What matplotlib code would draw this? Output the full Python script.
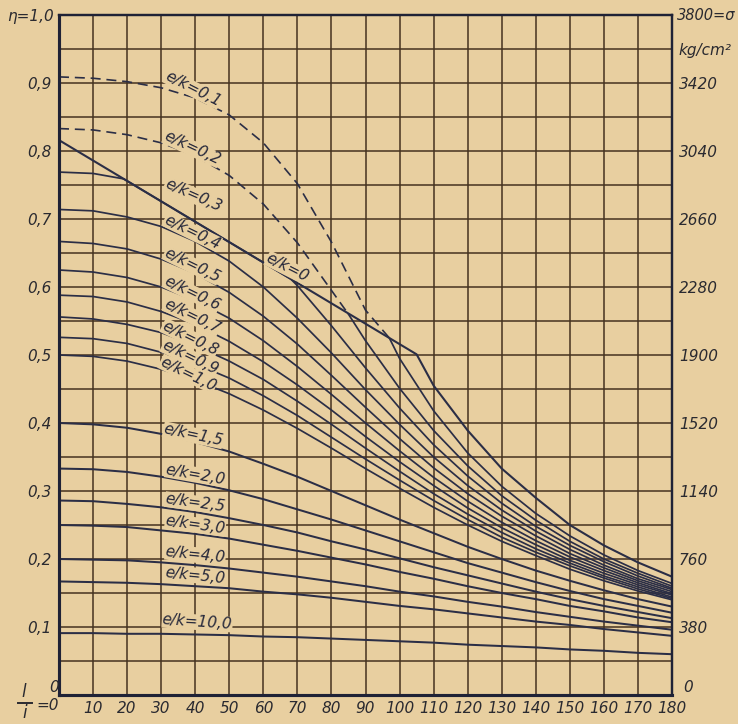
import matplotlib.pyplot as plt

plt.rcParams['font.family'] = ['Liberation Sans Narrow', 'DejaVu Sans']

# slenderness l/i on the x axis
lam = [0, 10, 20, 30, 40, 50, 60, 70, 80, 90, 100, 110, 120, 130, 140, 150, 160, 170, 180]

# e/k = 0 (straight part, then the hyperbola)
lam_0 = [0, 10, 20, 30, 40, 50, 60, 70, 80, 90, 100, 105, 110, 120, 130, 140, 150, 160, 170, 180]
eta_0 = [0.816, 0.786, 0.756, 0.726, 0.696, 0.666, 0.636, 0.606, 0.576, 0.546, 0.516, 0.501,
         0.455, 0.389, 0.333, 0.290, 0.250, 0.220, 0.195, 0.174]

# e/k = 0,1 and 0,2: dashed above the e/k=0 line, solid below it
lam_01_dash = [0, 10, 20, 30, 40, 50, 60, 70, 80, 90, 97]
eta_01_dash = [0.909, 0.907, 0.902, 0.893, 0.878, 0.853, 0.812, 0.752, 0.666, 0.566, 0.525]
lam_01 = [97, 100, 110, 120, 130, 140, 150, 160, 170, 180]
eta_01 = [0.525, 0.495, 0.418, 0.356, 0.307, 0.267, 0.234, 0.206, 0.183, 0.164]

lam_02_dash = [0, 10, 20, 30, 40, 50, 60, 70, 80, 85]
eta_02_dash = [0.833, 0.831, 0.824, 0.812, 0.793, 0.764, 0.722, 0.665, 0.595, 0.560]
lam_02 = [85, 90, 100, 110, 120, 130, 140, 150, 160, 170, 180]
eta_02 = [0.560, 0.521, 0.451, 0.389, 0.337, 0.293, 0.257, 0.226, 0.200, 0.179, 0.160]

lam_03 = [0, 10, 19, 30, 40, 50, 60, 68, 70, 80, 90, 100, 110, 120, 130, 140, 150, 160, 170, 180]
eta_03 = [0.769, 0.767, 0.759, 0.726, 0.696, 0.666, 0.636, 0.612, 0.602, 0.543, 0.481, 0.422,
          0.368, 0.322, 0.282, 0.248, 0.220, 0.196, 0.175, 0.157]

eta_04 = [0.714, 0.712, 0.703, 0.689, 0.667, 0.638, 0.600, 0.554, 0.503, 0.449, 0.398, 0.350,
          0.308, 0.272, 0.241, 0.214, 0.191, 0.171, 0.155]
eta_05 = [0.667, 0.664, 0.656, 0.641, 0.620, 0.592, 0.557, 0.516, 0.470, 0.423, 0.377, 0.334,
          0.296, 0.263, 0.234, 0.208, 0.187, 0.168, 0.152]
eta_06 = [0.625, 0.622, 0.614, 0.600, 0.580, 0.554, 0.521, 0.483, 0.442, 0.400, 0.359, 0.320,
          0.285, 0.254, 0.227, 0.203, 0.183, 0.165, 0.149]
eta_07 = [0.588, 0.586, 0.578, 0.564, 0.545, 0.520, 0.490, 0.456, 0.419, 0.380, 0.343, 0.308,
          0.275, 0.246, 0.221, 0.198, 0.179, 0.162, 0.147]
eta_08 = [0.556, 0.553, 0.545, 0.533, 0.514, 0.491, 0.464, 0.432, 0.398, 0.363, 0.329, 0.296,
          0.266, 0.239, 0.215, 0.194, 0.175, 0.159, 0.144]
eta_09 = [0.526, 0.524, 0.517, 0.504, 0.487, 0.466, 0.440, 0.411, 0.379, 0.347, 0.316, 0.286,
          0.258, 0.232, 0.210, 0.190, 0.172, 0.156, 0.142]
eta_10 = [0.500, 0.498, 0.491, 0.479, 0.463, 0.443, 0.419, 0.392, 0.363, 0.333, 0.304, 0.276,
          0.250, 0.226, 0.205, 0.185, 0.168, 0.153, 0.140]
eta_15 = [0.400, 0.398, 0.393, 0.384, 0.372, 0.358, 0.340, 0.321, 0.300, 0.279, 0.258, 0.238,
          0.218, 0.200, 0.183, 0.168, 0.154, 0.141, 0.130]
eta_20 = [0.333, 0.332, 0.328, 0.321, 0.312, 0.301, 0.288, 0.273, 0.258, 0.242, 0.226, 0.210,
          0.194, 0.180, 0.166, 0.153, 0.141, 0.131, 0.121]
eta_25 = [0.286, 0.285, 0.281, 0.276, 0.269, 0.260, 0.250, 0.239, 0.226, 0.214, 0.201, 0.188,
          0.176, 0.164, 0.152, 0.141, 0.131, 0.122, 0.113]
eta_30 = [0.250, 0.249, 0.247, 0.242, 0.237, 0.230, 0.221, 0.212, 0.202, 0.192, 0.181, 0.171,
          0.160, 0.150, 0.141, 0.131, 0.123, 0.114, 0.107]
eta_40 = [0.200, 0.199, 0.198, 0.195, 0.191, 0.186, 0.180, 0.174, 0.167, 0.160, 0.152, 0.145,
          0.137, 0.130, 0.122, 0.115, 0.108, 0.102, 0.096]
eta_50 = [0.167, 0.166, 0.165, 0.163, 0.160, 0.157, 0.152, 0.148, 0.143, 0.137, 0.131, 0.126,
          0.120, 0.114, 0.108, 0.103, 0.097, 0.092, 0.087]
eta_100 = [0.091, 0.091, 0.090, 0.090, 0.089, 0.088, 0.086, 0.085, 0.083, 0.081, 0.079, 0.077,
           0.074, 0.072, 0.070, 0.067, 0.065, 0.062, 0.060]

# curve labels: text, x, eta, angle
curve_labels = [
    ("e/k=0,1", 39.4, 0.891, -27), ("e/k=0,2", 39.1, 0.804, -25),
    ("e/k=0,3", 39.4, 0.735, -24), ("e/k=0,4", 39.1, 0.681, -26),
    ("e/k=0,5", 39.1, 0.632, -26), ("e/k=0,6", 39.1, 0.591, -26),
    ("e/k=0,7", 39.1, 0.557, -26), ("e/k=0,8", 38.5, 0.525, -26),
    ("e/k=0,9", 38.5, 0.496, -26), ("e/k=1,0", 37.9, 0.472, -26),
    ("e/k=0", 67.1, 0.628, -27),
    ("e/k=1,5", 39.4, 0.382, -12), ("e/k=2,0", 40.0, 0.324, -10),
    ("e/k=2,5", 40.0, 0.282, -8), ("e/k=3,0", 40.0, 0.250, -8),
    ("e/k=4,0", 40.0, 0.206, -6), ("e/k=5,0", 40.0, 0.176, -6),
    ("e/k=10,0", 40.6, 0.107, -4),
]

left_ticks = [0.1, 0.2, 0.3, 0.4, 0.5, 0.6, 0.7, 0.8, 0.9]
left_labels = ["0,1", "0,2", "0,3", "0,4", "0,5", "0,6", "0,7", "0,8", "0,9"]
right_labels = ["380", "760", "1140", "1520", "1900", "2280", "2660", "3040", "3420"]

paper = '#e8cfa0'
ink = '#2b2e46'
txt_c = '#2a2a30'
grid_c = '#453220'
W, H = 738, 724

fig = plt.figure(figsize=(W / 100, H / 100), dpi=100, facecolor=paper)
ax = fig.add_axes([59 / W, 29 / H, 613 / W, 680 / H])
ax.set_facecolor(paper)
ax.set_xlim(0, 180)
ax.set_ylim(0, 1)

ax.set_xticks(lam)
ax.set_xticklabels([""] + [str(v) for v in lam[1:]])
ax.set_yticks(left_ticks)
ax.set_yticklabels(left_labels)
ax.set_yticks([0.05 + 0.1 * i for i in range(10)] + [1.0], minor=True)
ax.grid(True, which='both', color=grid_c, lw=1.1)
ax.tick_params(which='both', length=0)
ax.tick_params(axis='x', pad=4)
ax.tick_params(axis='y', pad=5)
for lab in ax.get_xticklabels() + ax.get_yticklabels():
    lab.set_fontstyle('italic')
    lab.set_fontsize(11)
    lab.set_color(txt_c)

ax2 = ax.twinx()
ax2.set_ylim(0, 1)
ax2.set_yticks(left_ticks)
ax2.set_yticklabels(right_labels, fontstyle='italic', fontsize=11, color=txt_c)
ax2.tick_params(length=0, pad=5)

for a in (ax, ax2):
    for side in ('left', 'bottom'):
        a.spines[side].set_linewidth(2.2)
        a.spines[side].set_color('#1f2236')
    for side in ('top', 'right'):
        a.spines[side].set_linewidth(1.6)
        a.spines[side].set_color('#1f2236')

# curves
lw = 1.25
ax.plot(lam_0, eta_0, color=ink, lw=1.5, zorder=4)
ax.plot(lam_01_dash, eta_01_dash, color=ink, lw=1.2, dashes=(6, 3.5), zorder=3)
ax.plot(lam_01, eta_01, color=ink, lw=lw, zorder=3)
ax.plot(lam_02_dash, eta_02_dash, color=ink, lw=1.2, dashes=(6, 3.5), zorder=3)
ax.plot(lam_02, eta_02, color=ink, lw=lw, zorder=3)
ax.plot(lam_03, eta_03, color=ink, lw=lw, zorder=3)
for eta in [eta_04, eta_05, eta_06, eta_07, eta_08, eta_09, eta_10]:
    ax.plot(lam, eta, color=ink, lw=lw, zorder=3)
for eta in [eta_15, eta_20, eta_25, eta_30, eta_40, eta_50, eta_100]:
    ax.plot(lam, eta, color=ink, lw=1.45, zorder=3)

for txt, x, y, rot in curve_labels:
    ax.text(x, y, txt, rotation=rot, rotation_mode='anchor', ha='center', va='center',
            fontsize=11, fontstyle='italic', color='#26283a', zorder=5,
            bbox=dict(facecolor=paper, edgecolor='none', pad=0.2))

# top labels, unit text, zero labels and the l/i fraction at the origin
fig.text(54 / W, 1 - 16 / H, "η=1,0", fontsize=11, fontstyle='italic', color=txt_c,
         va='center', ha='right')
fig.text(677 / W, 1 - 16 / H, "3800=σ", fontsize=10.5, fontstyle='italic', color=txt_c,
         va='center', ha='left')
fig.text(678 / W, 1 - 50 / H, "kg/cm²", fontsize=11, fontstyle='italic', color=txt_c,
         va='center', ha='left')
fig.text(688 / W, 1 - 687 / H, "0", fontsize=11, fontstyle='italic', color=txt_c,
         va='center', ha='center')
fig.text(54 / W, 1 - 688 / H, "0", fontsize=11, fontstyle='italic', color=txt_c,
         va='center', ha='center')
fig.text(24 / W, 1 - 692 / H, "l", fontsize=12, fontstyle='italic', color=txt_c,
         ha='center', va='center')
fig.add_artist(plt.Line2D([18 / W, 32 / W], [1 - 703 / H, 1 - 703 / H], color=txt_c,
                          lw=1.4))
fig.text(25 / W, 1 - 713 / H, "i", fontsize=12, fontstyle='italic', color=txt_c,
         ha='center', va='center')
fig.text(48 / W, 1 - 706 / H, "=0", fontsize=11, fontstyle='italic', color=txt_c,
         ha='center', va='center')

plt.savefig("out.png", dpi=100, facecolor=paper)
